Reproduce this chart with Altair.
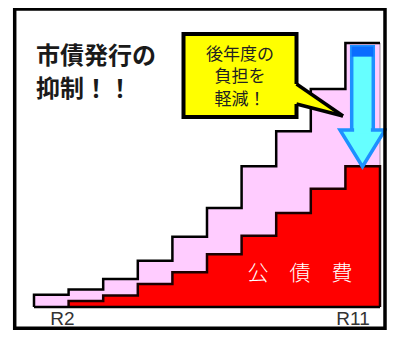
import altair as alt
import pandas as pd

# ---- data (arbitrary height units) ----
years = ["R2", "R3", "R4", "R5", "R6", "R7", "R8", "R9", "R10", "R11"]
issue_total = [12.3, 17.7, 28.3, 46.7, 71.0, 100.0, 142.0, 177.5, 220.0, 266.5]   # pink steps
debt_service = [0.0, 6.0, 11.7, 23.3, 35.0, 53.3, 72.0, 95.0, 119.3, 142.0]      # red steps

axis_labels = ["R2", "R11"]
axis_label_pos = [0.82, 9.22]

title_lines = ["市債発行の", "抑制！！"]
callout_lines = ["後年度の", "負担を", "軽減！"]
area_label = "公　債　費"

# ---- annotation geometry in data units ----
box_x = [4.321, 7.587]
box_y = [191.8, 275.6]
tail_x = [7.50, 7.587, 8.931]
tail_top = [225.1, 225.1, 192.8]
tail_bot = [204.9, 204.9, 192.8]
shaft_x = [9.182, 9.806]
shaft_y = [176.7, 262.8]
band_y = [252.7, 262.8]
head_x = [8.844, 9.494, 10.145]
head_top = [178.7, 178.7, 178.7]
head_tip = [178.7, 141.6, 178.7]
callout_y = [254.4, 232.2, 209.0]
callout_x = 5.954
title_y = [252.4, 219.1]
title_x = 0.058
area_label_pos = (7.69, 33.3)
axis_label_y = -12.1

n = len(years)
xs = alt.Scale(domain=[-0.7514, 10.2023], nice=False, zero=False)
ys = alt.Scale(domain=[-23.2, 301.8], nice=False, zero=False)
X = lambda f: alt.X(f, type="quantitative", scale=xs, axis=None)
Y = lambda f: alt.Y(f, type="quantitative", scale=ys, axis=None)

kx = list(range(n)) + [n]
pink_area_df = pd.DataFrame({"x": kx, "y": issue_total + [issue_total[-1]]})
red_area_df = pd.DataFrame({"x": kx, "y": debt_service + [debt_service[-1]]})

pink_pts = [(0, 0.0)] + [(i, issue_total[i]) for i in range(n)] + [(n, issue_total[-1])]
pink_line = pd.DataFrame({"x": [p[0] for p in pink_pts], "y": [p[1] for p in pink_pts],
                          "i": list(range(len(pink_pts)))})
red_pts = [(1, 0.0)] + [(i, debt_service[i]) for i in range(1, n)] + [(n, debt_service[-1]), (n, 0.0)]
red_line = pd.DataFrame({"x": [p[0] for p in red_pts], "y": [p[1] for p in red_pts],
                         "i": list(range(len(red_pts)))})

pink = alt.Chart(pink_area_df).mark_area(color="#FFCCFF", interpolate="step-after",
                                         fillOpacity=1).encode(x=X("x"), y=Y("y"))
red = alt.Chart(red_area_df).mark_area(color="#FF0000", interpolate="step-after",
                                       fillOpacity=1).encode(x=X("x"), y=Y("y"))

pink_edge = alt.Chart(pd.DataFrame({"x": [n, n], "y": [0.0, issue_total[-1]]})).mark_line(
    color="#9a8a9a", strokeWidth=1).encode(x=X("x"), y=Y("y"))

pink_out = alt.Chart(pink_line).mark_line(color="#000000", strokeWidth=2.5,
                                          interpolate="step-after").encode(
    x=X("x"), y=Y("y"), order="i:Q")
red_out = alt.Chart(red_line).mark_line(color="#1a0000", strokeWidth=2.5,
                                        interpolate="step-after").encode(
    x=X("x"), y=Y("y"), order="i:Q")
base = alt.Chart(pd.DataFrame({"x": [0, n], "y": [0.0, 0.0]})).mark_line(
    color="#000000", strokeWidth=2.5).encode(x=X("x"), y=Y("y"))

label_red = alt.Chart(pd.DataFrame({"x": [area_label_pos[0]], "y": [area_label_pos[1]],
                                    "t": [area_label]})).mark_text(
    font="Noto Sans CJK JP", fontSize=21, color="#FFFFFF", fontWeight=300,
    align="center", baseline="middle").encode(x=X("x"), y=Y("y"), text="t")

# arrow
shaft = alt.Chart(pd.DataFrame({"x0": [shaft_x[0]], "x1": [shaft_x[1]],
                                "y0": [shaft_y[0]], "y1": [shaft_y[1]]})).mark_rect(
    fill="#66FFFF", stroke="#1E90FF", strokeWidth=3.5).encode(
    x=X("x0"), x2="x1", y=Y("y0"), y2="y1")
band = alt.Chart(pd.DataFrame({"x0": [shaft_x[0]], "x1": [shaft_x[1]],
                               "y0": [band_y[0]], "y1": [band_y[1]]})).mark_rect(
    fill="#0A6CFF").encode(x=X("x0"), x2="x1", y=Y("y0"), y2="y1")
head = alt.Chart(pd.DataFrame({"x": head_x, "y": head_top, "y2": head_tip})).mark_area(
    fill="#66FFFF", stroke="#1E90FF", strokeWidth=3.5, fillOpacity=1).encode(
    x=X("x"), y=Y("y"), y2="y2")
joint = alt.Chart(pd.DataFrame({"x0": [shaft_x[0] + 0.07], "x1": [shaft_x[1] - 0.07],
                                "y0": [head_top[0] - 4], "y1": [head_top[0] + 5]})).mark_rect(
    fill="#66FFFF").encode(x=X("x0"), x2="x1", y=Y("y0"), y2="y1")

# callout
box = alt.Chart(pd.DataFrame({"x0": [box_x[0]], "x1": [box_x[1]],
                              "y0": [box_y[0]], "y1": [box_y[1]]})).mark_rect(
    fill="#FFFF00", stroke="#000000", strokeWidth=4).encode(
    x=X("x0"), x2="x1", y=Y("y0"), y2="y1")
tail = alt.Chart(pd.DataFrame({"x": tail_x, "y": tail_top, "y2": tail_bot})).mark_area(
    fill="#FFFF00", fillOpacity=1).encode(x=X("x"), y=Y("y"), y2="y2")
tail_edges = alt.Chart(pd.DataFrame({
    "x": [tail_x[1], tail_x[2], tail_x[1], tail_x[2]],
    "y": [tail_top[1], tail_top[2], tail_bot[1], tail_bot[2]],
    "g": ["a", "a", "b", "b"]})).mark_line(color="#000000", strokeWidth=3.5).encode(
    x=X("x"), y=Y("y"), detail="g:N")
callout_text = alt.Chart(pd.DataFrame({"x": [callout_x] * 3, "y": callout_y,
                                       "t": callout_lines})).mark_text(
    font="Noto Sans CJK JP", fontSize=17, color="#222222",
    align="center", baseline="middle").encode(x=X("x"), y=Y("y"), text="t")

title = alt.Chart(pd.DataFrame({"x": [title_x, title_x], "y": title_y,
                                "t": title_lines})).mark_text(
    font="Noto Sans CJK JP", fontSize=24, fontWeight="bold", color="#1a1a1a",
    align="left", baseline="middle").encode(x=X("x"), y=Y("y"), text="t")

xlabels = alt.Chart(pd.DataFrame({"x": axis_label_pos, "y": [axis_label_y] * 2,
                                  "t": axis_labels})).mark_text(
    font="Liberation Sans", fontSize=19, color="#333333",
    align="center", baseline="middle").encode(x=X("x"), y=Y("y"), text="t")

frame = alt.Chart(pd.DataFrame({"a": [0]})).mark_rect(
    fill=None, stroke="#000000", strokeWidth=3.5).encode(
    x=alt.value(6.7), x2=alt.value(377), y=alt.value(1.0), y2=alt.value(320.3))

chart = alt.layer(
    pink, red, pink_edge, pink_out, red_out, base, label_red,
    shaft, band, head, joint,
    box, tail, tail_edges, callout_text,
    title, xlabels, frame
).properties(
    width=379, height=322, padding=0,
    autosize=alt.AutoSizeParams(type="none"),
    background="#FFFFFF"
).configure_view(stroke=None)

chart.save("out.html", embed_options={"renderer": "svg", "actions": False})
